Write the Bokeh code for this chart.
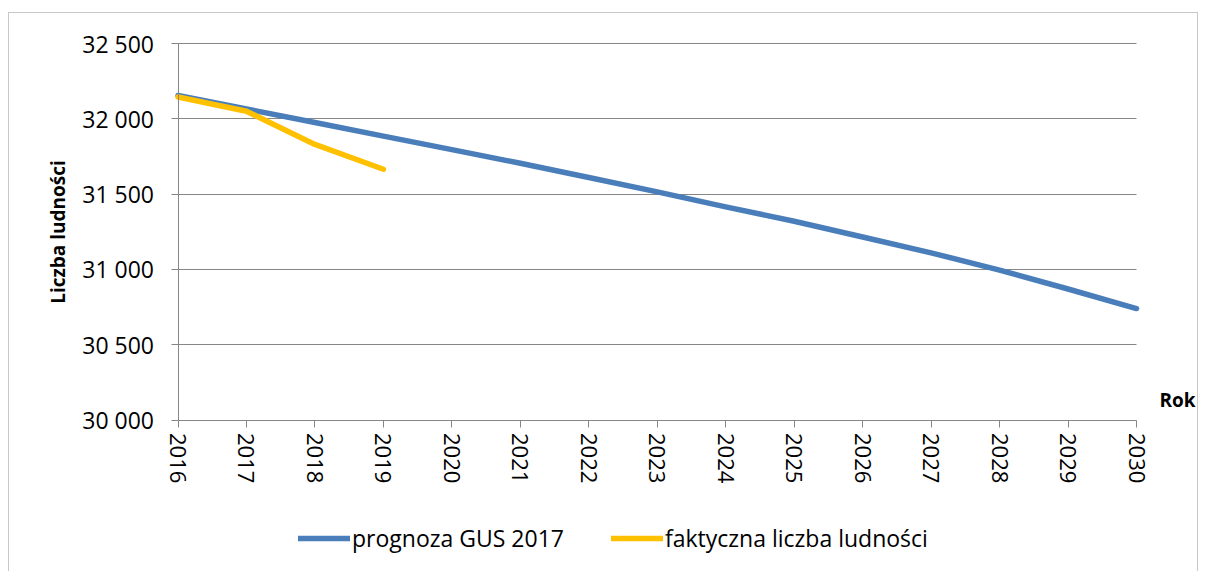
from bokeh.plotting import figure
from bokeh.models import (FixedTicker, Legend, LegendItem, Label, ColumnDataSource,
                          LinearAxis, Grid)
from bokeh.embed import file_html
from bokeh.resources import INLINE

years = list(range(2016, 2031))
prognoza = [32155, 32065, 31975, 31885, 31795, 31705, 31610, 31515,
            31415, 31320, 31215, 31110, 30995, 30870, 30740]
years_fact = [2016, 2017, 2018, 2019]
faktyczna = [32145, 32050, 31830, 31665]
y_ticks = [30000, 30500, 31000, 31500, 32000, 32500]
y_tick_labels = ["30 000", "30 500", "31 000", "31 500", "32 000", "32 500"]
x_tick_labels = [str(y) for y in years]

FONT = "Open Sans"
GRID = "#868686"

W, H = 1190, 559
# pixel placement of the plotting area inside the canvas
fx0, fx1, fy_top, fy_bot = 168.5, 1127.0, 30.0, 406.5
x0, x1 = years[0], years[-1]
y0, y1 = y_ticks[0], y_ticks[-1]
kx = (fx1 - fx0) / (x1 - x0)
ky = (fy_bot - fy_top) / (y1 - y0)
x_range = (x0 - fx0 / kx, x1 + (W - fx1) / kx)
y_range = (y0 - (H - fy_bot) / ky, y1 + fy_top / ky)

p = figure(width=W, height=H, output_backend="svg", toolbar_location=None,
           x_range=x_range, y_range=y_range,
           x_axis_location=None, y_axis_location=None,
           min_border_left=0, min_border_right=0, min_border_top=0,
           min_border_bottom=0)
p.styles = {"margin-left": "8px", "margin-top": "12px",
            "border-left": "1px solid #c8c8c8", "border-top": "1px solid #c8c8c8",
            "border-right": "1px solid #c8c8c8"}
p.outline_line_color = None
p.xgrid.grid_line_color = None
p.ygrid.grid_line_color = None

yaxis = LinearAxis(fixed_location=x0, bounds=(y0, y1),
                   ticker=FixedTicker(ticks=y_ticks),
                   major_label_overrides={t: l for t, l in zip(y_ticks, y_tick_labels)})
xaxis = LinearAxis(fixed_location=y0, bounds=(x0, x1),
                   ticker=FixedTicker(ticks=years),
                   major_label_overrides={y: l for y, l in zip(years, x_tick_labels)},
                   major_label_orientation="vertical")
p.add_layout(yaxis, "left")
p.add_layout(xaxis, "below")

for ax in (xaxis, yaxis):
    ax.axis_line_color = GRID
    ax.major_tick_line_color = GRID
    ax.major_tick_out = 7
    ax.major_tick_in = 0
    ax.minor_tick_line_color = None
    ax.major_label_text_font = FONT
    ax.major_label_text_color = "black"

yaxis.major_label_text_font_size = "23px"
xaxis.major_label_text_font_size = "22px"
yaxis.major_label_standoff = 17
xaxis.major_label_standoff = 6
yaxis.axis_label = "Liczba ludności"
yaxis.axis_label_text_font = FONT
yaxis.axis_label_text_font_style = "bold"
yaxis.axis_label_text_font_size = "19px"
yaxis.axis_label_text_color = "black"
yaxis.axis_label_standoff = 9

grid = Grid(dimension=1, ticker=FixedTicker(ticks=y_ticks[1:]),
            bounds=(y_ticks[1], y1), cross_bounds=(x0, x1),
            grid_line_color=GRID, grid_line_width=1)
p.add_layout(grid)

src1 = ColumnDataSource(dict(x=years, y=prognoza))
src2 = ColumnDataSource(dict(x=years_fact, y=faktyczna))
r1 = p.line("x", "y", source=src1, line_color="#4A7EBB", line_width=5.5,
            line_cap="round", line_join="round")
r2 = p.line("x", "y", source=src2, line_color="#FFC000", line_width=5.5,
            line_cap="round", line_join="round")

rok = Label(x=x1, y=y0, text="Rok", x_offset=23, y_offset=20,
            text_baseline="middle", text_font=FONT, text_font_style="bold",
            text_font_size="19px", text_color="black")
p.add_layout(rok)

legend = Legend(items=[LegendItem(label="prognoza GUS 2017", renderers=[r1]),
                       LegendItem(label="faktyczna liczba ludności", renderers=[r2])],
                orientation="horizontal", location=(289, 18),
                glyph_width=52, glyph_height=24, label_standoff=2, spacing=47,
                padding=0, margin=0, border_line_color=None,
                background_fill_alpha=0,
                label_text_font=FONT, label_text_font_size="23px",
                label_text_color="black", label_height=24)
p.add_layout(legend, "center")

open("out.html", "w").write(file_html(p, INLINE))
